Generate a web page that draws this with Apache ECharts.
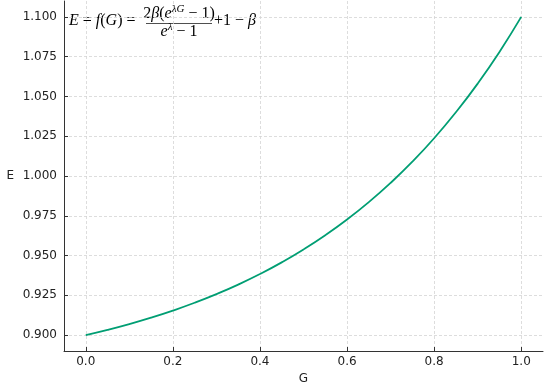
<!DOCTYPE html>
<html>
<head>
<meta charset="utf-8">
<script src="https://cdn.jsdelivr.net/npm/echarts@6/dist/echarts.min.js"></script>
<style>
  html, body { margin: 0; padding: 0; background: #fff; }
  #chart { width: 550px; height: 390px; }
</style>
</head>
<body>
<div id="chart"></div>
<script>
// G values (x) and E = f(G)
const gValues = [0, 0.05, 0.1, 0.15, 0.2, 0.25, 0.3, 0.35, 0.4, 0.45, 0.5,
  0.55, 0.6, 0.65, 0.7, 0.75, 0.8, 0.85, 0.9, 0.95, 1.0];
const eValues = [0.9, 0.90329, 0.90693, 0.91095, 0.9154, 0.92031, 0.92574, 0.93173,
  0.93836, 0.94569, 0.95379, 0.96274, 0.97263, 0.98356, 0.99564, 1.00899,
  1.02374, 1.04007, 1.05807, 1.07799, 1.1];

const xTicks = [0, 0.2, 0.4, 0.6, 0.8, 1.0];
const yTicks = [0.9, 0.925, 0.95, 0.975, 1.0, 1.025, 1.05, 1.075, 1.1];

const lineColor = '#009E73';
const axisColor = '#333';
const gridColor = '#d4d4d4';

const chart = echarts.init(document.getElementById('chart'));

const serif = 'Liberation Serif';
const NB = '\u00a0';
const richMath = {
  i: { fontFamily: serif, fontStyle: 'italic', fontSize: 16, color: '#222' },
  n: { fontFamily: serif, fontSize: 16, color: '#222' },
  sup: { fontFamily: serif, fontStyle: 'italic', fontSize: 11, color: '#222', padding: [0, 0, 9, 0] }
};

const option = {
  animation: false,
  grid: { left: 64, right: 7, top: 1, bottom: 33 },
  xAxis: {
    type: 'value',
    min: -0.05,
    max: 1.05,
    name: 'G',
    nameLocation: 'middle',
    nameGap: 22,
    nameTextStyle: { fontFamily: 'DejaVu Sans', fontSize: 12, color: '#222' },
    axisLine: { show: true, onZero: false, lineStyle: { color: axisColor, width: 1 } },
    axisTick: { show: true, inside: true, length: 4, customValues: xTicks, lineStyle: { color: axisColor } },
    axisLabel: {
      customValues: xTicks,
      margin: 5,
      fontFamily: 'DejaVu Sans', fontSize: 12, color: '#222',
      formatter: v => v.toFixed(1)
    },
    splitLine: { show: true, lineStyle: { color: gridColor, type: [3, 2], width: 0.8 } }
  },
  yAxis: {
    type: 'value',
    min: 0.89,
    max: 1.11,
    name: 'E',
    nameLocation: 'middle',
    nameGap: 50,
    nameRotate: 0,
    nameTextStyle: { fontFamily: 'DejaVu Sans', fontSize: 12, color: '#222' },
    axisLine: { show: true, onZero: false, lineStyle: { color: axisColor, width: 1 } },
    axisTick: { show: true, inside: true, length: 4, customValues: yTicks, lineStyle: { color: axisColor } },
    axisLabel: {
      customValues: yTicks,
      margin: 7,
      fontFamily: 'DejaVu Sans', fontSize: 12, color: '#222',
      formatter: v => v.toFixed(3)
    },
    splitLine: { show: true, lineStyle: { color: gridColor, type: [3, 2], width: 0.8 } }
  },
  graphic: [
    {
      type: 'text', x: 69, y: 21,
      style: {
        text: '{i|E}{n|' + NB + '=' + NB + '}{i|f}{n|(}{i|G}{n|)' + NB + '=}',
        rich: richMath, verticalAlign: 'middle'
      }
    },
    {
      type: 'text', x: 179, y: 14,
      style: {
        text: '{n|2}{i|β}{n|(}{i|e}{sup|λG}{n|' + NB + '−' + NB + '1)}',
        rich: richMath, align: 'center', verticalAlign: 'middle'
      }
    },
    {
      type: 'line', shape: { x1: 146, y1: 23.5, x2: 212, y2: 23.5 },
      style: { stroke: '#222', lineWidth: 0.8 }
    },
    {
      type: 'text', x: 179, y: 32,
      style: {
        text: '{i|e}{sup|λ}{n|' + NB + '−' + NB + '1}',
        rich: richMath, align: 'center', verticalAlign: 'middle'
      }
    },
    {
      type: 'text', x: 214, y: 21,
      style: {
        text: '{n|+1' + NB + '−' + NB + '}{i|β}',
        rich: richMath, verticalAlign: 'middle'
      }
    }
  ],
  series: [
    {
      type: 'line',
      data: gValues.map((g, k) => [g, eValues[k]]),
      smooth: true,
      showSymbol: false,
      lineStyle: { color: lineColor, width: 1.8 }
    }
  ]
};

chart.setOption(option);
</script>
</body>
</html>
